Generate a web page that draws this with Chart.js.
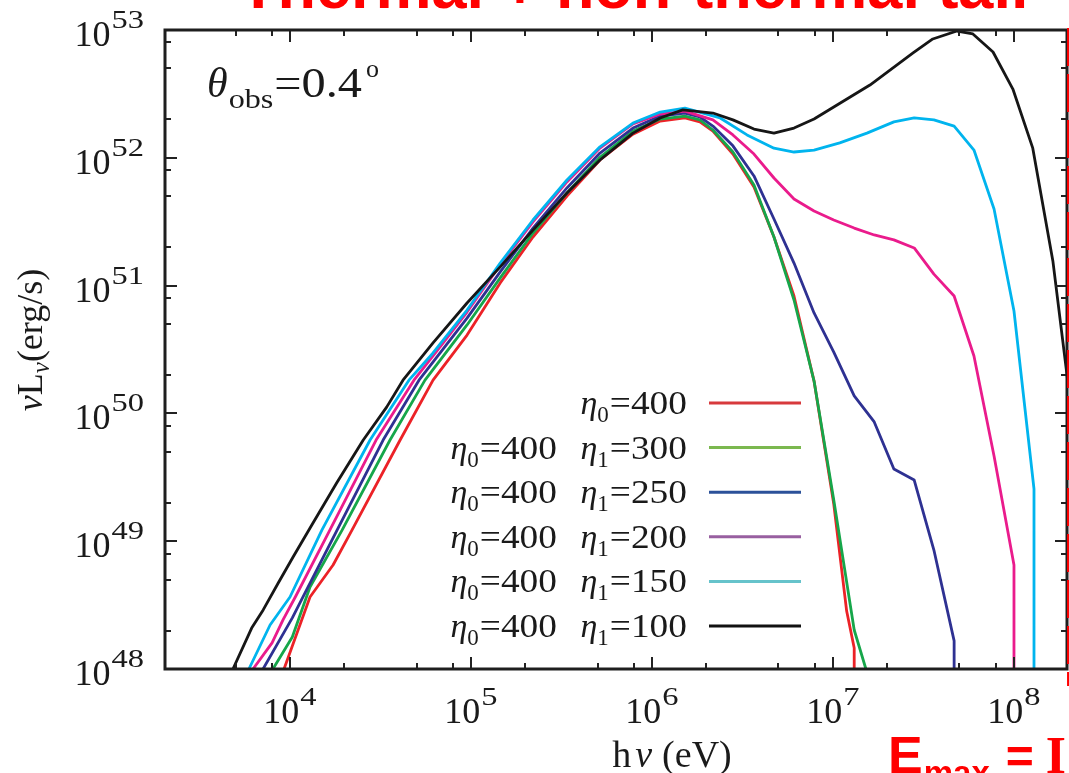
<!DOCTYPE html>
<html>
<head>
<meta charset="utf-8">
<script src="https://cdn.jsdelivr.net/npm/chart.js@4.4.1/dist/chart.umd.min.js"></script>
<style>
html,body{margin:0;padding:0;background:#fff;}
#wrap{width:1069px;height:773px;position:relative;}
</style>
</head>
<body>
<div id="wrap"><canvas id="c" width="1069" height="773"></canvas></div>
<script>
// ---- data (photon energy hν in eV, νLν in erg/s) ----
const s400_x = [9.27e3,1.29e4,1.73e4,2.20e4,4.06e4,6.17e4,9.51e4,1.45e5,2.20e5,3.39e5,5.16e5,7.85e5,1.11e6,1.52e6,1.84e6,2.17e6,2.80e6,3.66e6,4.72e6,6.09e6,7.86e6,1.01e7,1.19e7,1.31e7,1.31e7];
const s400_y = [1e48,3.66e48,6.51e48,1.22e49,6.19e49,1.82e50,4.10e50,1.05e51,2.40e51,5.02e51,9.61e51,1.53e52,1.94e52,2.05e52,1.91e52,1.62e52,1.07e52,5.91e51,2.40e51,8.29e50,1.79e50,1.95e49,2.84e48,1.46e48,1e46];

const s300_x = [8.05e3,1.03e4,1.29e4,1.94e4,3.57e4,5.57e4,9.51e4,1.45e5,2.20e5,3.39e5,5.16e5,7.85e5,1.11e6,1.52e6,1.84e6,2.17e6,2.80e6,3.66e6,4.72e6,6.09e6,7.86e6,1.01e7,1.31e7,1.52e7];
const s300_y = [1e48,1.78e48,4.38e48,1.22e49,6.19e49,1.82e50,4.92e50,1.15e51,2.58e51,5.31e51,1.01e52,1.62e52,2.01e52,2.12e52,1.98e52,1.65e52,1.11e52,6.12e51,2.40e51,7.71e50,1.79e50,2.10e49,2.02e48,1e48];

const s250_x = [7.10e3,1.03e4,1.18e4,1.82e4,3.27e4,5.16e4,9.51e4,1.45e5,2.20e5,3.39e5,5.16e5,7.85e5,1.11e6,1.52e6,1.84e6,2.17e6,2.80e6,3.66e6,4.72e6,6.09e6,7.86e6,1.01e7,1.31e7,1.69e7,2.17e7,2.81e7,3.61e7,4.67e7,4.67e7];
const s250_y = [1e48,2.51e48,3.66e48,1.22e49,6.19e49,1.82e50,5.57e50,1.28e51,2.82e51,5.81e51,1.09e52,1.71e52,2.12e52,2.24e52,2.09e52,1.77e52,1.24e52,7.21e51,3.32e51,1.50e51,6.11e50,3.02e50,1.37e50,8.57e49,3.67e49,3.01e49,8.53e48,1.66e48,1e46];

const s200_x = [6.25e3,7.96e3,9.15e3,1.07e4,1.66e4,2.99e4,4.84e4,6.75e4,9.51e4,1.45e5,2.20e5,3.39e5,5.16e5,7.85e5,1.11e6,1.52e6,2.17e6,2.80e6,3.66e6,4.72e6,6.09e6,7.86e6,1.01e7,1.31e7,1.69e7,2.17e7,2.81e7,3.61e7,4.67e7,6.01e7,7.76e7,1.00e8,1.00e8];
const s200_y = [1e48,1.60e48,2.42e48,3.66e48,1.22e49,6.19e49,1.82e50,3.31e50,6.21e50,1.45e51,3.15e51,6.47e51,1.19e52,1.84e52,2.20e52,2.32e52,1.98e52,1.51e52,1.07e52,6.95e51,4.76e51,3.84e51,3.26e51,2.82e51,2.49e51,2.28e51,1.97e51,1.23e51,8.29e50,2.81e50,4.64e49,6.51e48,1e46];

const s150_x = [5.93e3,7.76e3,1.00e4,1.50e4,2.77e4,4.54e4,6.17e4,9.51e4,1.45e5,2.20e5,3.39e5,5.16e5,7.85e5,1.11e6,1.52e6,2.38e6,3.35e6,4.72e6,6.09e6,7.86e6,1.09e7,1.54e7,2.17e7,2.81e7,3.61e7,4.67e7,6.01e7,7.76e7,1.00e8,1.29e8,1.29e8];
const s150_y = [1e48,2.21e48,3.66e48,1.22e49,6.19e49,1.82e50,2.97e50,6.44e50,1.50e51,3.26e51,6.70e51,1.22e52,1.87e52,2.28e52,2.45e52,2.05e52,1.51e52,1.19e52,1.11e52,1.15e52,1.31e52,1.56e52,1.91e52,2.05e52,1.98e52,1.77e52,1.15e52,3.97e51,6.33e50,2.56e49,1e46];

const s100_x = [4.84e3,6.14e3,7.11e3,8.61e3,1.04e4,1.32e4,1.81e4,2.54e4,3.42e4,4.21e4,6.17e4,9.51e4,1.45e5,2.20e5,3.39e5,5.16e5,7.85e5,1.11e6,1.48e6,2.17e6,2.80e6,3.66e6,4.72e6,6.09e6,7.86e6,1.01e7,1.60e7,2.77e7,3.56e7,4.84e7,5.93e7,7.66e7,9.86e7,1.27e8,1.64e8,1.96e8,2.32e8];
const s100_y = [1e48,2.09e48,2.90e48,4.71e48,7.52e48,1.34e49,2.85e49,6.19e49,1.12e50,1.82e50,3.56e50,7.31e50,1.40e51,2.72e51,5.31e51,9.61e51,1.56e52,2.05e52,2.37e52,2.24e52,1.98e52,1.68e52,1.56e52,1.71e52,2.01e52,2.50e52,3.71e52,6.61e52,8.51e52,9.82e52,9.31e52,6.73e52,3.45e52,1.19e52,1.56e51,2.03e50,3.01e49];

// legend entries
const eta0Values = [400, 400, 400, 400, 400, 400];
const eta1Values = [null, 300, 250, 200, 150, 100];
const lineColors = ['#ec2227', '#16a64a', '#2e3192', '#ea1b8c', '#00b4ee', '#161616'];
const legendColors = ['#d7393c', '#7bb84f', '#2b5199', '#985fa0', '#66c3cb', '#111111'];

// axis ticks
const xTickExponents = [4, 5, 6, 7, 8];
const yTickExponents = [48, 49, 50, 51, 52, 53];
const minorMultipliers = [2, 5, 8];
const X_MIN = 2039, X_MAX = 1.963e8, Y_MIN = 1e48, Y_MAX = 1e53;

const seriesX = [s400_x, s300_x, s250_x, s200_x, s150_x, s100_x];
const seriesY = [s400_y, s300_y, s250_y, s200_y, s150_y, s100_y];

const SERIF = '"Liberation Serif","DejaVu Serif",serif';
const SANS = '"Liberation Sans",Arial,sans-serif';

function rich(ctx, parts, x, y, align) {
  const widths = parts.map(p => { ctx.font = p.f; return ctx.measureText(p.t).width * (p.sx || 1) + (p.g || 0); });
  const total = widths.reduce((a, b) => a + b, 0);
  let cx = align === 'right' ? x - total : (align === 'center' ? x - total / 2 : x);
  ctx.textAlign = 'left';
  ctx.textBaseline = 'alphabetic';
  parts.forEach((p, i) => {
    cx += (p.g || 0);
    ctx.save();
    ctx.font = p.f;
    ctx.translate(cx, y + (p.dy || 0));
    ctx.scale(p.sx || 1, 1);
    ctx.fillText(p.t, 0, 0);
    ctx.restore();
    cx += widths[i] - (p.g || 0);
  });
}

const decor = {
  id: 'decor',
  afterDatasetsDraw(chart) {
    const ctx = chart.ctx, a = chart.chartArea, xs = chart.scales.x, ys = chart.scales.y;
    ctx.save();
    // ticks
    ctx.strokeStyle = '#222'; ctx.lineWidth = 2;
    const xTicks = [], yTicks = [];
    for (let e = 3; e <= 8; e++) {
      xTicks.push([Math.pow(10, e), 12]);
      minorMultipliers.forEach(m => xTicks.push([m * Math.pow(10, e), 6]));
    }
    for (let e = 48; e <= 53; e++) {
      yTicks.push([Math.pow(10, e), 12]);
      minorMultipliers.forEach(m => yTicks.push([m * Math.pow(10, e), 6]));
    }
    ctx.beginPath();
    xTicks.forEach(([v, len]) => {
      if (v <= X_MIN * 1.01 || v >= X_MAX * 0.99) return;
      const px = Math.round(xs.getPixelForValue(v));
      ctx.moveTo(px, a.bottom); ctx.lineTo(px, a.bottom - len);
      ctx.moveTo(px, a.top); ctx.lineTo(px, a.top + len);
    });
    yTicks.forEach(([v, len]) => {
      if (v <= Y_MIN * 1.01 || v >= Y_MAX * 0.99) return;
      const py = Math.round(ys.getPixelForValue(v));
      ctx.moveTo(a.left, py); ctx.lineTo(a.left + len, py);
      ctx.moveTo(a.right, py); ctx.lineTo(a.right - len, py);
    });
    ctx.stroke();
    // frame
    ctx.lineWidth = 3; ctx.strokeStyle = '#1e1e1e';
    ctx.strokeRect(a.left, a.top, a.right - a.left, a.bottom - a.top);

    // tick labels
    ctx.fillStyle = '#1a1a1a';
    yTickExponents.forEach(e => {
      const py = ys.getPixelForValue(Math.pow(10, e));
      rich(ctx, [{t: '10', f: '36px ' + SERIF}, {t: String(e), f: '25px ' + SERIF, dy: -18, sx: 1.3, g: 1}], 144, py + 16, 'right');
    });
    xTickExponents.forEach(e => {
      const px = xs.getPixelForValue(Math.pow(10, e));
      rich(ctx, [{t: '10', f: '36px ' + SERIF}, {t: String(e), f: '25px ' + SERIF, dy: -18, sx: 1.3, g: 1}], px, a.bottom + 54, 'center');
    });

    // axis titles
    rich(ctx, [{t: 'h', f: '38px ' + SERIF}, {t: 'ν', f: 'italic 38px ' + SERIF, g: 4}, {t: '(eV)', f: '38px ' + SERIF, g: 10}], 672, 767, 'center');
    ctx.save();
    ctx.translate(42, 340);
    ctx.rotate(-Math.PI / 2);
    rich(ctx, [{t: 'ν', f: 'italic 36px ' + SERIF}, {t: 'L', f: '36px ' + SERIF}, {t: 'ν', f: 'italic 25px ' + SERIF, dy: 7}, {t: '(erg/s)', f: '36px ' + SERIF}], 0, 0, 'center');
    ctx.restore();

    // observer angle
    rich(ctx, [{t: 'θ', f: 'italic 42px ' + SERIF}, {t: 'obs', f: '28px ' + SERIF, dy: 11, sx: 1.15, g: 1}, {t: '=0.4', f: '42px ' + SERIF, sx: 1.15, g: 1}, {t: 'o', f: '26px ' + SERIF, dy: -20, g: 4}], 207, 97, 'left');

    // legend
    eta0Values.forEach((e0, i) => {
      const ry = 403 + i * 44.6;
      const e1 = eta1Values[i];
      const mk = (sub, val) => [{t: 'η', f: 'italic 34px ' + SERIF}, {t: sub, f: '23px ' + SERIF, dy: 8}, {t: '=' + val, f: '34px ' + SERIF, sx: 1.1, g: 1}];
      ctx.fillStyle = '#1a1a1a';
      if (e1 === null) {
        rich(ctx, mk('0', e0), 687, ry + 11, 'right');
      } else {
        rich(ctx, mk('0', e0), 557, ry + 11, 'right');
        rich(ctx, mk('1', e1), 687, ry + 11, 'right');
      }
      ctx.strokeStyle = legendColors[i]; ctx.lineWidth = 3;
      ctx.beginPath(); ctx.moveTo(709, ry); ctx.lineTo(801, ry); ctx.stroke();
    });

    // red slide annotations
    ctx.fillStyle = '#ff0000';
    ctx.font = 'bold 63px ' + SANS;
    ctx.textAlign = 'left'; ctx.textBaseline = 'alphabetic';
    ctx.fillText('Thermal + non-thermal tail', 239, 8);
    rich(ctx, [{t: 'E', f: 'bold 52px ' + SANS}, {t: 'max', f: 'bold 33px ' + SANS, dy: 11, g: 1}, {t: '=', f: 'bold 48px ' + SANS, g: 16}, {t: 'I', f: 'bold 52px ' + SERIF, g: 12}], 888, 773, 'left');
    ctx.strokeStyle = '#ff0000'; ctx.lineWidth = 2.5;
    ctx.setLineDash([38, 8]);
    ctx.beginPath(); ctx.moveTo(1068.3, 28); ctx.lineTo(1068.3, 686); ctx.stroke();
    ctx.restore();
  }
};

const datasets = seriesX.map((xs, i) => ({
  label: eta1Values[i] === null ? 'η0=' + eta0Values[i] : 'η0=' + eta0Values[i] + ' η1=' + eta1Values[i],
  data: xs.map((x, k) => ({x: x, y: seriesY[i][k]})),
  borderColor: lineColors[i],
  backgroundColor: lineColors[i],
  borderWidth: 2.8,
  pointRadius: 0,
  tension: 0,
  fill: false,
  borderJoinStyle: 'round',
  order: 5 - i
}));

new Chart(document.getElementById('c'), {
  type: 'line',
  data: { datasets },
  options: {
    responsive: false,
    animation: false,
    devicePixelRatio: 1,
    layout: { padding: { left: 165, right: 2, top: 30, bottom: 104 } },
    plugins: { legend: { display: false }, tooltip: { enabled: false } },
    scales: {
      x: { type: 'logarithmic', min: X_MIN, max: X_MAX, display: false },
      y: { type: 'logarithmic', min: Y_MIN, max: Y_MAX, display: false }
    }
  },
  plugins: [decor]
});
</script>
</body>
</html>
